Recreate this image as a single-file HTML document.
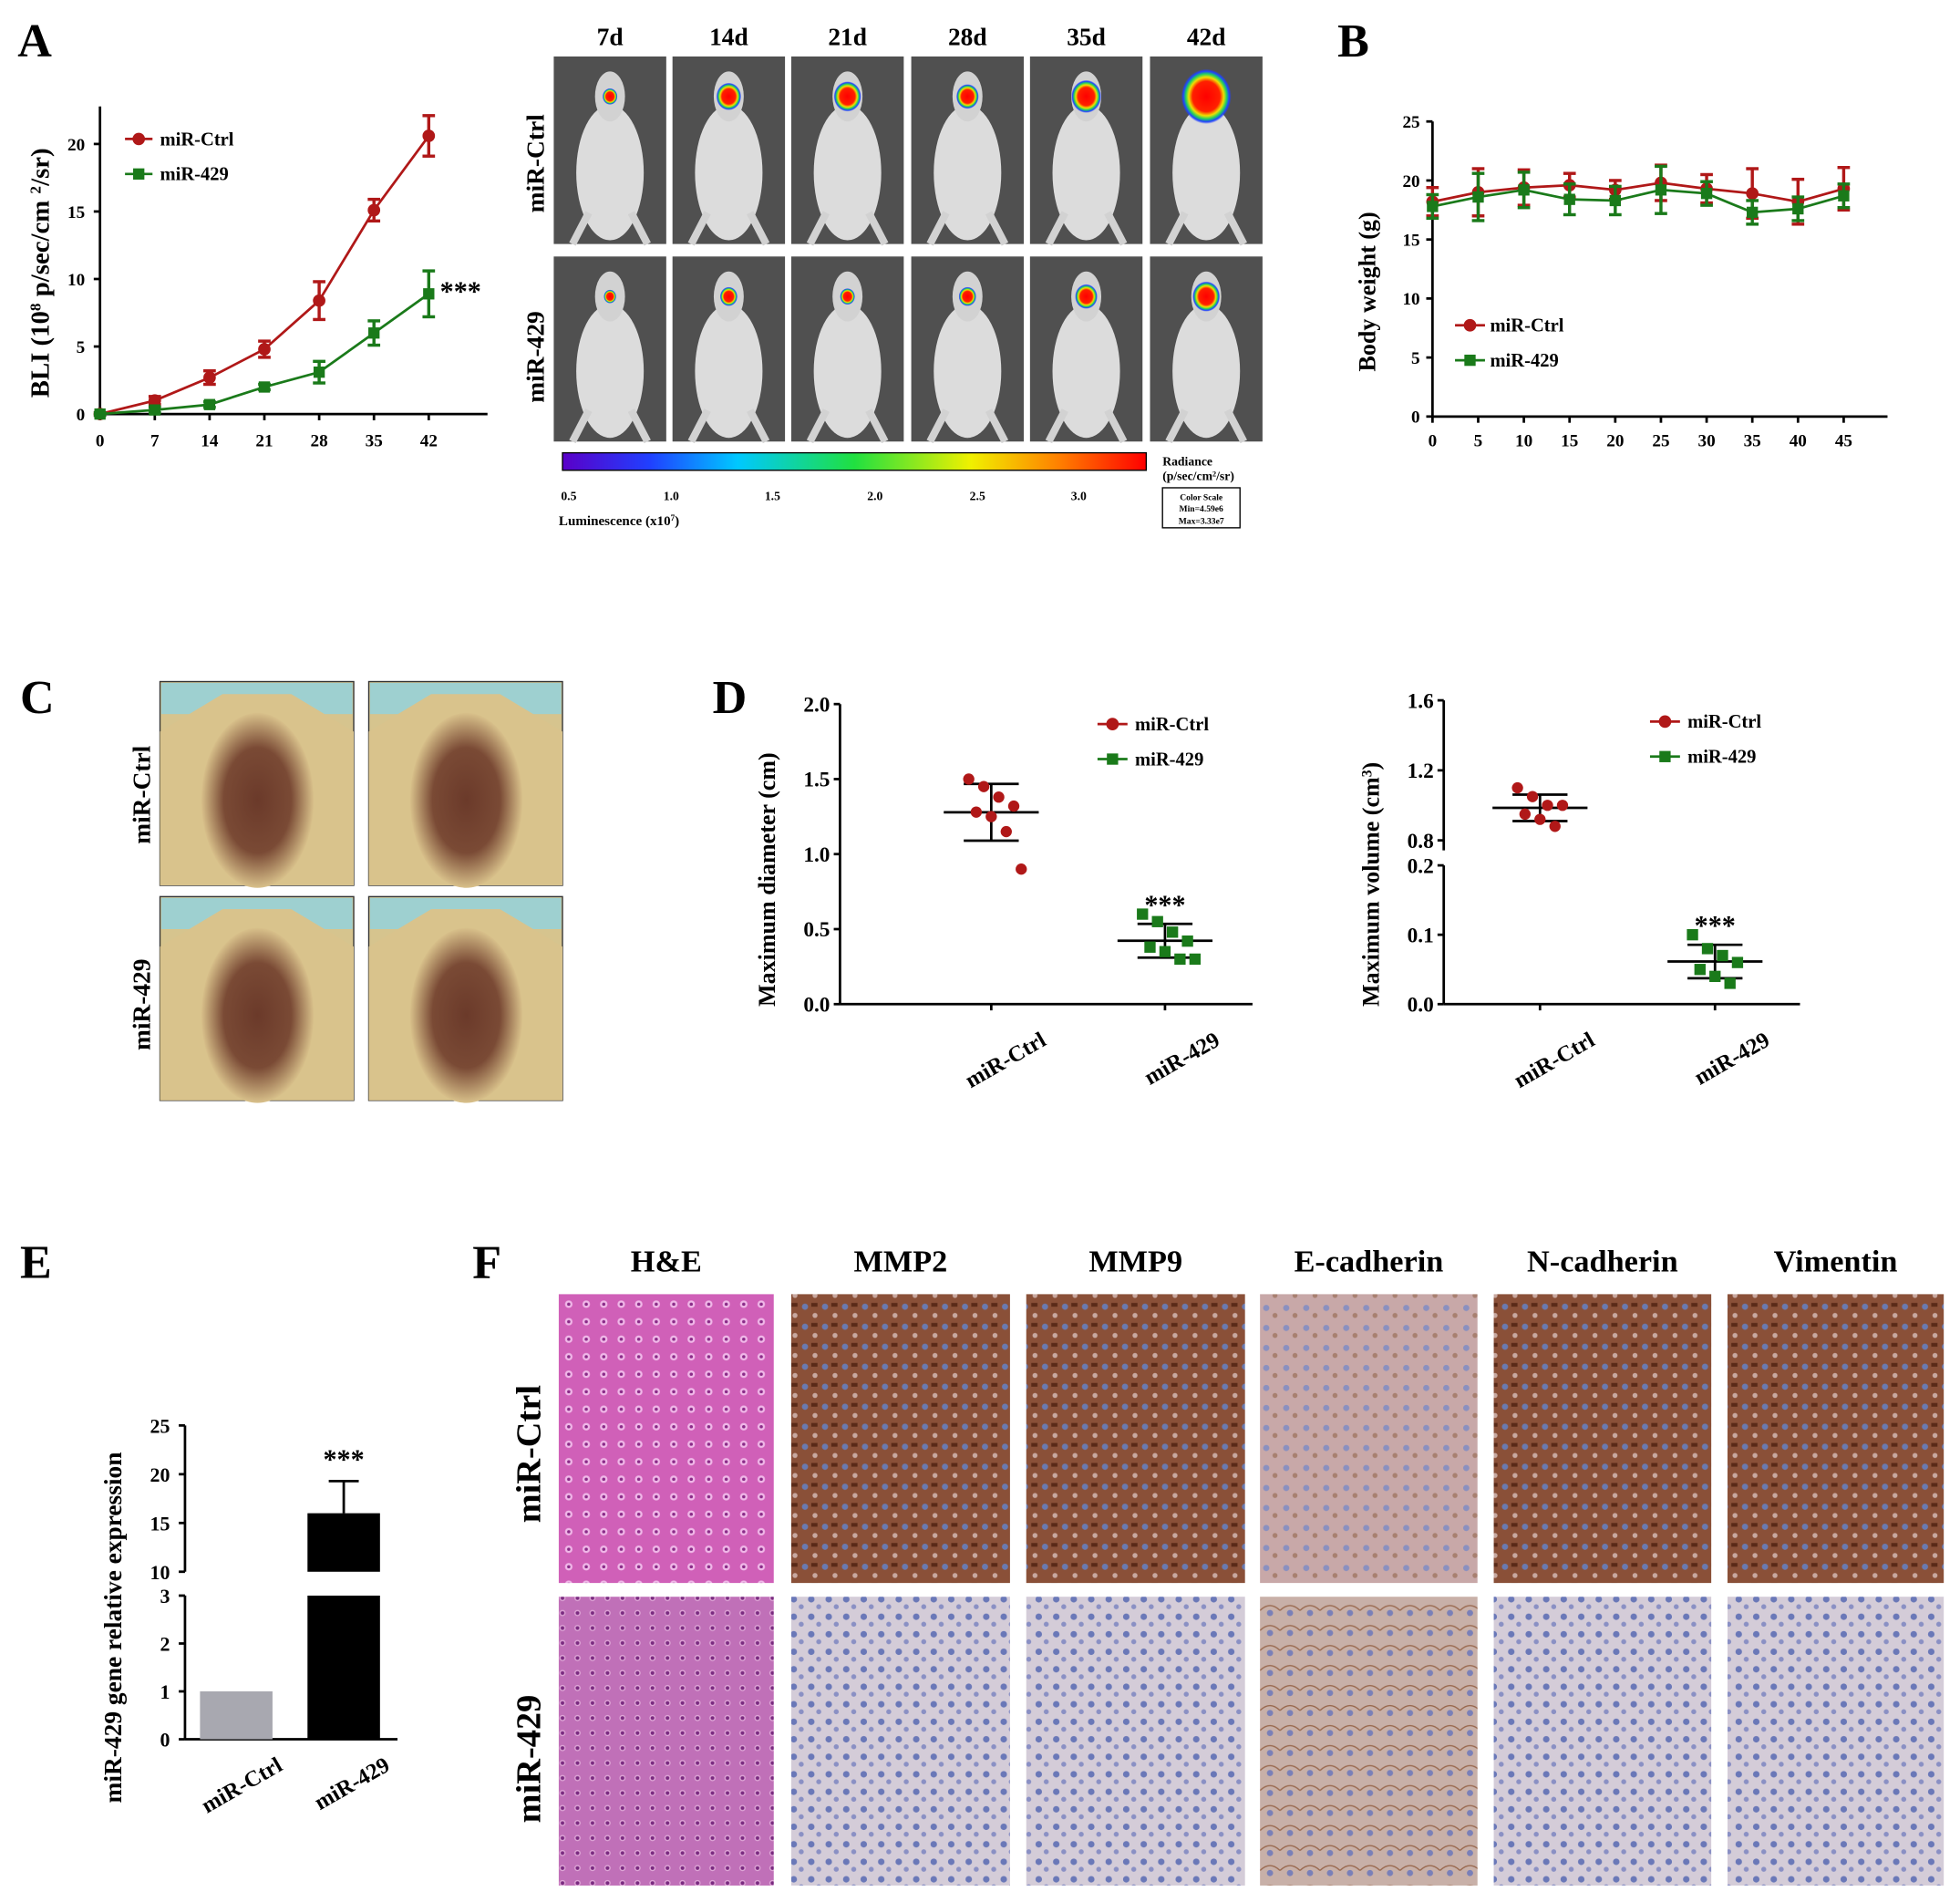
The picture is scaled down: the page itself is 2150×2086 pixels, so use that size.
<!DOCTYPE html>
<html><head><meta charset="utf-8"><style>
html,body{margin:0;padding:0;background:#fff;}
svg{display:block;font-family:"Liberation Serif",serif;font-weight:bold;}
</style></head><body>
<svg id="fig" width="2150" height="2086" viewBox="0 0 1568 1521" xmlns="http://www.w3.org/2000/svg">
<defs>
<linearGradient id="cbar" x1="0" x2="1" y1="0" y2="0">
<stop offset="0" stop-color="#5a00c8"/><stop offset="0.15" stop-color="#2040ff"/><stop offset="0.3" stop-color="#00c8ff"/><stop offset="0.5" stop-color="#20e040"/><stop offset="0.7" stop-color="#f0f000"/><stop offset="0.85" stop-color="#ff8000"/><stop offset="1" stop-color="#ff0000"/>
</linearGradient>
<radialGradient id="spot"><stop offset="0" stop-color="#ff0000"/><stop offset="0.55" stop-color="#ff2000"/><stop offset="0.7" stop-color="#f0e000"/><stop offset="0.82" stop-color="#20d060"/><stop offset="0.92" stop-color="#2040ff"/><stop offset="1" stop-color="#2040ff" stop-opacity="0"/></radialGradient>
<radialGradient id="ctissue"><stop offset="0" stop-color="#6b3a2a"/><stop offset="0.6" stop-color="#7a4a35"/><stop offset="1" stop-color="#d8c08a"/></radialGradient>
<pattern id="heP" width="14" height="14" patternUnits="userSpaceOnUse"><rect width="14" height="14" fill="#d060b8"/><circle cx="7" cy="7" r="3" fill="#f0b8e8"/><circle cx="7" cy="7" r="1.3" fill="#8a2a88"/></pattern>
<pattern id="heP2" width="12" height="12" patternUnits="userSpaceOnUse"><rect width="12" height="12" fill="#c070b8"/><circle cx="6" cy="6" r="2.5" fill="#e0a8d8"/><circle cx="6" cy="6" r="1.5" fill="#7a2a80"/></pattern>
<pattern id="brP" width="16" height="16" patternUnits="userSpaceOnUse"><rect width="16" height="16" fill="#8a5038"/><circle cx="4" cy="5" r="2.5" fill="#6a7ab0"/><circle cx="12" cy="12" r="2" fill="#c8a8a0"/><rect x="9" y="2" width="5" height="3" fill="#5a2a18"/></pattern>
<pattern id="brL" width="16" height="16" patternUnits="userSpaceOnUse"><rect width="16" height="16" fill="#c8a8a8"/><circle cx="5" cy="6" r="2.5" fill="#8a90c0"/><circle cx="12" cy="12" r="2" fill="#a88070"/></pattern>
<pattern id="blP" width="14" height="14" patternUnits="userSpaceOnUse"><rect width="14" height="14" fill="#d4ccd8"/><circle cx="5" cy="5" r="2.6" fill="#6a78b8"/><circle cx="11" cy="11" r="2" fill="#8a90c4"/></pattern>
<pattern id="ecP" width="16" height="16" patternUnits="userSpaceOnUse"><rect width="16" height="16" fill="#c8b0a8"/><path d="M0 8 Q8 0 16 8" stroke="#9a6a50" fill="none"/><circle cx="8" cy="10" r="2.5" fill="#7a80b8"/></pattern>
</defs>
<g id="root"></g>
</svg>
<script>
// ---------- data ----------
const aDays=[0,7,14,21,28,35,42];
const aCtrl=[0,1,2.7,4.8,8.4,15.1,20.6];
const aCtrlErr=[0.1,0.3,0.5,0.6,1.4,0.8,1.5];
const a429=[0,0.3,0.7,2,3.1,6,8.9];
const a429Err=[0.1,0.2,0.2,0.2,0.8,0.9,1.7];
const aTicksY=[0,5,10,15,20];
const bDays=[0,5,10,15,20,25,30,35,40,45];
const bCtrl=[18.2,19,19.4,19.6,19.2,19.8,19.3,18.9,18.2,19.3];
const bCtrlErr=[1.2,2,1.5,1,0.8,1.5,1.2,2.1,1.9,1.8];
const b429=[17.8,18.6,19.2,18.4,18.3,19.2,18.9,17.3,17.6,18.7];
const b429Err=[1,2,1.5,1.3,1.2,2,1,1,1,1];
const bTicksY=[0,5,10,15,20,25];
const dDiamCtrl=[1.5,1.45,1.38,1.32,1.28,1.25,1.15,0.9];
const dDiam429=[0.6,0.55,0.48,0.42,0.38,0.35,0.3,0.3];
const dVolCtrl=[1.1,1.05,1.0,1.0,0.95,0.92,0.88];
const dVol429=[0.1,0.08,0.07,0.06,0.05,0.04,0.03];
const eCats=["miR-Ctrl","miR-429"];
const eVals=[1,16];
const eErr=[0,3.3];
const days=["7d","14d","21d","28d","35d","42d"];
const spotCtrl=[6,10,11,9,12,20];
const spot429=[5,7,6,7,9,11];
const stains=["H&E","MMP2","MMP9","E-cadherin","N-cadherin","Vimentin"];

const NS="http://www.w3.org/2000/svg";
const root=document.getElementById('root');
function el(tag,attrs,parent,txt){const e=document.createElementNS(NS,tag);for(const k in attrs)e.setAttribute(k,attrs[k]);if(txt!==undefined)e.textContent=txt;(parent||root).appendChild(e);return e;}
function txt(x,y,s,size,name,extra){const t=el('text',Object.assign({x:x,y:y,'font-size':size,fill:'#000'},extra||{}),root,s);


return t;}
// text with superscripts: parts = [[str,isSup],...]
function rich(parts,size,name,attrs){const t=el('text',Object.assign({'font-size':size,fill:'#000'},attrs));


parts.forEach(p=>{const ts=el('tspan',p[1]?{'baseline-shift':'super','font-size':size*0.6}:{},t,p[0]);});return t;}
const RED="#b01818",GRN="#1a7a1a";

[["A",14,45],["B",1070,45],["C",16,570],["D",570,570],["E",16,1022],["F",378,1022]].forEach(p=>{txt(p[1],p[2],p[0],38,'panel-label-'+p[0].toLowerCase());});

// ---------- Panel A line chart ----------
(function(){
const x=d=>80+d*(263/42), y=v=>331-v*10.8;
const g=el('g',{});


el('line',{x1:80,y1:85,x2:80,y2:331,stroke:'#000','stroke-width':2},g);
el('line',{x1:80,y1:331,x2:390,y2:331,stroke:'#000','stroke-width':2},g);
aTicksY.forEach(v=>{el('line',{x1:75,x2:80,y1:y(v),y2:y(v),stroke:'#000','stroke-width':2},g);txt(68,y(v)+5,String(v),14,'bli-y-tick',{'text-anchor':'end'});});
aDays.forEach(d=>{el('line',{x1:x(d),x2:x(d),y1:331,y2:336,stroke:'#000','stroke-width':2},g);txt(x(d),357,String(d),14,'bli-x-tick',{'text-anchor':'middle'});});
function series(vals,errs,col,sq,name){
 el('polyline',{points:vals.map((v,i)=>x(aDays[i])+','+y(v)).join(' '),fill:'none',stroke:col,'stroke-width':2},g);
 vals.forEach((v,i)=>{const cx=x(aDays[i]),cy=y(v),e=errs[i]*10.8;
  el('line',{x1:cx,x2:cx,y1:cy-e,y2:cy+e,stroke:col,'stroke-width':2.5},g);
  el('line',{x1:cx-5,x2:cx+5,y1:cy-e,y2:cy-e,stroke:col,'stroke-width':2.5},g);
  el('line',{x1:cx-5,x2:cx+5,y1:cy+e,y2:cy+e,stroke:col,'stroke-width':2.5},g);
  const m=sq?el('rect',{x:cx-4.5,y:cy-4.5,width:9,height:9,fill:col},g):el('circle',{cx:cx,cy:cy,r:5,fill:col},g);
  
  });
}
series(aCtrl,aCtrlErr,RED,false,'bli-ctrl');
series(a429,a429Err,GRN,true,'bli-429');
txt(352,240,'***',22,'bli-significance');
el('line',{x1:100,x2:122,y1:111,y2:111,stroke:RED,'stroke-width':2},g);el('circle',{cx:111,cy:111,r:5,fill:RED},g);
txt(128,116,'miR-Ctrl',15,'legend-entry-ctrl');
el('line',{x1:100,x2:122,y1:139,y2:139,stroke:GRN,'stroke-width':2},g);el('rect',{x:106.5,y:134.5,width:9,height:9,fill:GRN},g);
txt(128,144,'miR-429',15,'legend-entry-429');
rich([['BLI (10',0],['8',1],[' p/sec/cm ',0],['2',1],['/sr)',0]],21,'bli-y-axis-title',{transform:'translate(39,318) rotate(-90)'});
})();

// ---------- Panel A images ----------
(function(){
const cols=[443,538,633,729,824,920];
days.forEach((d,i)=>txt(cols[i]+45,36,d,20,'day-label',{'text-anchor':'middle'}));
txt(0,0,'miR-Ctrl',20,'row-label-ctrl',{transform:'translate(435,170) rotate(-90)'});
txt(0,0,'miR-429',20,'row-label-429',{transform:'translate(435,322) rotate(-90)'});
[[45,150,spotCtrl,'ctrl'],[205,148,spot429,'429']].forEach(r=>{
 cols.forEach((cx,i)=>{const g=el('g',{});
  
  
  el('rect',{x:cx,y:r[0],width:90,height:r[1],fill:'#505050'},g);
  el('ellipse',{cx:cx+45,cy:r[0]+r[1]*0.62,rx:27,ry:r[1]*0.36,fill:'#dcdcdc'},g);
  el('ellipse',{cx:cx+45,cy:r[0]+32,rx:12,ry:20,fill:'#d2d2d2'},g);
  el('path',{d:`M${cx+15} ${r[0]+r[1]} L${cx+28} ${r[0]+r[1]-25} M${cx+75} ${r[0]+r[1]} L${cx+62} ${r[0]+r[1]-25}`,stroke:'#d2d2d2','stroke-width':6},g);
  const s=r[2][i];el('ellipse',{cx:cx+45,cy:r[0]+32,rx:s,ry:s*1.1,fill:'url(#spot)'},g);
 });});
const cb=el('rect',{x:450,y:362,width:467,height:14,fill:'url(#cbar)',stroke:'#000','stroke-width':1});


[["0.5",455],["1.0",537],["1.5",618],["2.0",700],["2.5",782],["3.0",863]].forEach(t=>txt(t[1],400,t[0],10,'color-tick',{'text-anchor':'middle'}));
rich([['Luminescence   (x10',0],['7',1],[')',0]],11,'color-scale-title',{x:447,y:420});
txt(930,372,'Radiance',10,'radiance-label');
rich([['(p/sec/cm',0],['2',1],['/sr)',0]],10,'radiance-unit',{x:930,y:384});
el('rect',{x:930,y:390,width:62,height:32,fill:'none',stroke:'#000','stroke-width':1});
txt(961,400,'Color Scale',7,'color-scale-box',{'text-anchor':'middle'});txt(961,409,'Min=4.59e6',7,'color-min',{'text-anchor':'middle'});txt(961,419,'Max=3.33e7',7,'color-max',{'text-anchor':'middle'});
})();

// ---------- Panel B ----------
(function(){
const x=d=>1146+d*7.31, y=v=>333-v*9.44;
const g=el('g',{});


el('line',{x1:1146,y1:97,x2:1146,y2:333,stroke:'#000','stroke-width':2},g);
el('line',{x1:1146,y1:333,x2:1510,y2:333,stroke:'#000','stroke-width':2},g);
bTicksY.forEach(v=>{el('line',{x1:1141,x2:1146,y1:y(v),y2:y(v),stroke:'#000','stroke-width':2},g);txt(1136,y(v)+5,String(v),14,'bw-y-tick',{'text-anchor':'end'});});
bDays.forEach(d=>{el('line',{x1:x(d),x2:x(d),y1:333,y2:338,stroke:'#000','stroke-width':2},g);txt(x(d),357,String(d),14,'bw-x-tick',{'text-anchor':'middle'});});
function series(vals,errs,col,sq,name){
 el('polyline',{points:vals.map((v,i)=>x(bDays[i])+','+y(v)).join(' '),fill:'none',stroke:col,'stroke-width':2},g);
 vals.forEach((v,i)=>{const cx=x(bDays[i]),cy=y(v),e=errs[i]*9.44;
  el('line',{x1:cx,x2:cx,y1:cy-e,y2:cy+e,stroke:col,'stroke-width':2.5},g);
  el('line',{x1:cx-5,x2:cx+5,y1:cy-e,y2:cy-e,stroke:col,'stroke-width':2.5},g);
  el('line',{x1:cx-5,x2:cx+5,y1:cy+e,y2:cy+e,stroke:col,'stroke-width':2.5},g);
  const m=sq?el('rect',{x:cx-4.5,y:cy-4.5,width:9,height:9,fill:col},g):el('circle',{cx:cx,cy:cy,r:5,fill:col},g);
  
  });
}
series(bCtrl,bCtrlErr,RED,false,'bw-ctrl');
series(b429,b429Err,GRN,true,'bw-429');
el('line',{x1:1164,x2:1188,y1:260,y2:260,stroke:RED,'stroke-width':2},g);el('circle',{cx:1176,cy:260,r:5,fill:RED},g);
txt(1192,265,'miR-Ctrl',15,'bw-legend-ctrl');
el('line',{x1:1164,x2:1188,y1:288,y2:288,stroke:GRN,'stroke-width':2},g);el('rect',{x:1171.5,y:283.5,width:9,height:9,fill:GRN},g);
txt(1192,293,'miR-429',15,'bw-legend-429');
txt(0,0,'Body weight (g)',19,'bw-y-axis-title',{transform:'translate(1100,297) rotate(-90)'});
})();

// ---------- Panel C ----------
(function(){
txt(0,0,'miR-Ctrl',20,'c-row-ctrl',{transform:'translate(120,675) rotate(-90)'});
txt(0,0,'miR-429',20,'c-row-429',{transform:'translate(120,840) rotate(-90)'});
[545,717].forEach((yy,r)=>[128,295].forEach((xx,c)=>{const g=el('g',{});
 
 
 el('rect',{x:xx,y:yy,width:155,height:163,fill:'#d6c48e',stroke:'#333','stroke-width':1},g);
 el('rect',{x:xx+1,y:yy+1,width:153,height:25,fill:'#9ed0d0'},g);
 el('path',{d:`M${xx} ${yy+40} L${xx+50} ${yy+10} L${xx+105} ${yy+10} L${xx+155} ${yy+40} L${xx+155} ${yy+163} L${xx} ${yy+163}Z`,fill:'#d9c38c'},g);
 el('ellipse',{cx:xx+78,cy:yy+95,rx:45,ry:70,fill:'url(#ctissue)'},g);
}));
})();

// ---------- Panel D ----------
function scatter(opts){
 const g=el('g',{});
 
 
 const y=opts.y;
 opts.axisSegs.forEach(s=>el('line',{x1:opts.ax,x2:opts.ax,y1:s[0],y2:s[1],stroke:'#000','stroke-width':2},g));
 el('line',{x1:opts.ax,x2:opts.axEnd,y1:803,y2:803,stroke:'#000','stroke-width':2},g);
 opts.ticks.forEach(t=>{el('line',{x1:opts.ax-5,x2:opts.ax,y1:y(t),y2:y(t),stroke:'#000','stroke-width':2},g);txt(opts.ax-8,y(t)+6,t.toFixed(1),17,opts.name+'-y-tick',{'text-anchor':'end'});});
 [[opts.ctrl,opts.cx[0],RED,false],[opts.m429,opts.cx[1],GRN,true]].forEach(s=>{
  const vals=s[0],cx=s[1],mean=vals.reduce((a,b)=>a+b)/vals.length,sd=Math.sqrt(vals.reduce((a,b)=>a+(b-mean)*(b-mean),0)/(vals.length-1));
  el('line',{x1:cx,x2:cx,y1:803,y2:808,stroke:'#000','stroke-width':2},g);
  el('line',{x1:cx-38,x2:cx+38,y1:y(mean),y2:y(mean),stroke:'#000','stroke-width':2},g);
  el('line',{x1:cx-22,x2:cx+22,y1:y(mean+sd),y2:y(mean+sd),stroke:'#000','stroke-width':2},g);
  el('line',{x1:cx-22,x2:cx+22,y1:y(mean-sd),y2:y(mean-sd),stroke:'#000','stroke-width':2},g);
  el('line',{x1:cx,x2:cx,y1:y(mean+sd),y2:y(mean-sd),stroke:'#000','stroke-width':2},g);
  vals.forEach((v,i)=>{const px=cx+((i%4)-1.5)*12+(i>=4?6:0);
   const m=s[3]?el('rect',{x:px-4.5,y:y(v)-4.5,width:9,height:9,fill:s[2]},g):el('circle',{cx:px,cy:y(v),r:4.5,fill:s[2]},g);
   
   });
  if(s[3]) txt(cx,y(mean+sd)-8,'***',22,opts.name+'-significance',{'text-anchor':'middle'});
 });
 txt(0,0,'miR-Ctrl',18,'x-cat',{transform:`translate(${opts.cx[0]+45},835) rotate(-30)`,'text-anchor':'end'});
 txt(0,0,'miR-429',18,'x-cat',{transform:`translate(${opts.cx[1]+45},835) rotate(-30)`,'text-anchor':'end'});
 rich(opts.title,19,opts.name+'-y-title',{transform:`translate(${opts.ax-52},${opts.titleY}) rotate(-90)`});
 const lx=opts.legX;
 el('line',{x1:lx,x2:lx+24,y1:opts.legY,y2:opts.legY,stroke:RED,'stroke-width':2},g);el('circle',{cx:lx+12,cy:opts.legY,r:5,fill:RED},g);
 txt(lx+30,opts.legY+5,'miR-Ctrl',15,'legend-entry');
 el('line',{x1:lx,x2:lx+24,y1:opts.legY+28,y2:opts.legY+28,stroke:GRN,'stroke-width':2},g);el('rect',{x:lx+7.5,y:opts.legY+23.5,width:9,height:9,fill:GRN},g);
 txt(lx+30,opts.legY+33,'miR-429',15,'legend-entry');
}
scatter({name:'diameter-chart',ax:672,axEnd:1002,axisSegs:[[563,803]],y:v=>803-v*120,ticks:[0,0.5,1.0,1.5,2.0],ctrl:dDiamCtrl,m429:dDiam429,cx:[793,932],title:[['Maximum diameter (cm)',0]],titleY:805,legX:878,legY:579});
scatter({name:'volume-chart',ax:1155,axEnd:1440,axisSegs:[[692,803],[560,680]],y:v=>v<=0.2?803-v*555:672-(v-0.8)*140,ticks:[0,0.1,0.2,0.8,1.2,1.6],ctrl:dVolCtrl,m429:dVol429,cx:[1232,1372],title:[['Maximum volume (cm',0],['3',1],[')',0]],titleY:805,legX:1320,legY:577});

// ---------- Panel E ----------
(function(){
const y=v=>v<=3?1391-v*38.3:1257-(v-10)*7.8;
const g=el('g',{});


el('line',{x1:148,x2:148,y1:1276,y2:1391,stroke:'#000','stroke-width':2},g);
el('line',{x1:148,x2:148,y1:1140,y2:1257,stroke:'#000','stroke-width':2},g);
el('line',{x1:148,x2:318,y1:1391,y2:1391,stroke:'#000','stroke-width':2},g);
[0,1,2,3,10,15,20,25].forEach(t=>{el('line',{x1:143,x2:148,y1:y(t),y2:y(t),stroke:'#000','stroke-width':2},g);txt(136,y(t)+6,String(t),16,'e-y-tick',{'text-anchor':'end'});});
const bx=[189,275],cols=['#a8a8b0','#000'];
eVals.forEach((v,i)=>{
 if(v<=3){const b=el('rect',{x:bx[i]-29,y:y(v),width:58,height:1391-y(v),fill:cols[i]},g);}
 else{const b1=el('rect',{x:bx[i]-29,y:y(3),width:58,height:1391-y(3),fill:cols[i]},g);
  el('rect',{x:bx[i]-29,y:y(v),width:58,height:1257-y(v),fill:cols[i]},g);
  const e=y(v+eErr[i]);el('line',{x1:bx[i],x2:bx[i],y1:e,y2:y(v),stroke:'#000','stroke-width':2},g);el('line',{x1:bx[i]-12,x2:bx[i]+12,y1:e,y2:e,stroke:'#000','stroke-width':2},g);
  txt(bx[i],e-10,'***',22,'e-significance',{'text-anchor':'middle'});}
 txt(0,0,eCats[i],18,'e-x-cat',{transform:`translate(${bx[i]+38},1415) rotate(-30)`,'text-anchor':'end'});
});
txt(0,0,'miR-429 gene relative expression',20,'e-y-title',{transform:'translate(97,1442) rotate(-90)'});
})();

// ---------- Panel F ----------
(function(){
const cx=[447,633,821,1008,1195,1382],cw=[172,175,175,174,174,173];
const top=['heP','brP','brP','brL','brP','brP'],bot=['heP2','blP','blP','ecP','blP','blP'];
stains.forEach((s,i)=>{txt(cx[i]+cw[i]/2,1017,s,25,'stain-label',{'text-anchor':'middle'});
 const a=el('rect',{x:cx[i],y:1035,width:cw[i],height:231,fill:'url(#'+top[i]+')'});
 const b=el('rect',{x:cx[i],y:1277,width:cw[i],height:231,fill:'url(#'+bot[i]+')'});});
txt(0,0,'miR-Ctrl',28,'f-row-ctrl',{transform:'translate(432,1218) rotate(-90)'});
txt(0,0,'miR-429',28,'f-row-429',{transform:'translate(432,1458) rotate(-90)'});
})();
</script>
</body></html>
